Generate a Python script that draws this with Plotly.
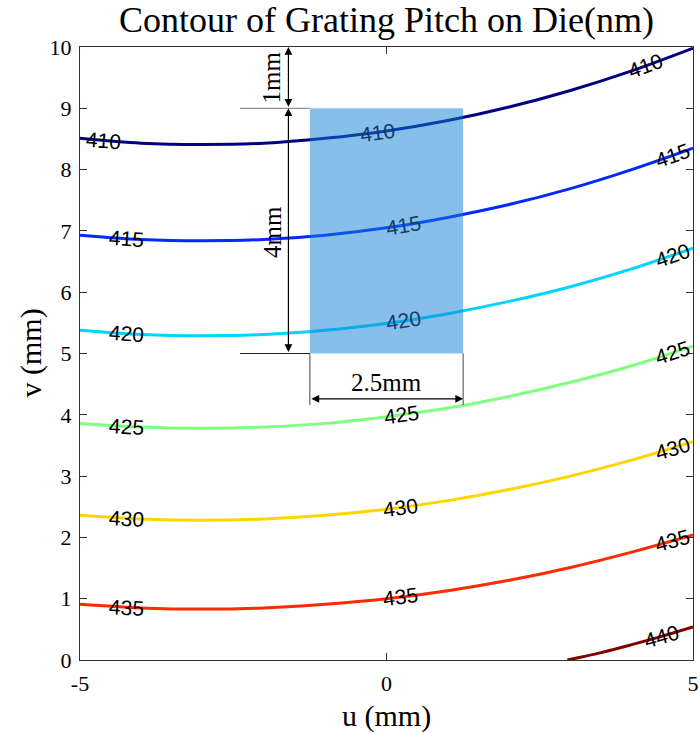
import numpy as np
import plotly.graph_objects as go

# ---- data ----
u_grid = [-5, -4, -3, -2, -1, 0, 1, 2, 3, 4, 5]
levels = [410, 415, 420, 425, 430, 435, 440]
v_410 = [8.51, 8.43, 8.41, 8.43, 8.51, 8.63, 8.80, 9.02, 9.29, 9.61, 9.98]
v_415 = [6.93, 6.86, 6.84, 6.86, 6.93, 7.05, 7.22, 7.43, 7.69, 8.00, 8.35]
v_420 = [5.38, 5.31, 5.29, 5.31, 5.38, 5.49, 5.65, 5.85, 6.09, 6.38, 6.72]
v_425 = [3.86, 3.80, 3.78, 3.80, 3.86, 3.97, 4.11, 4.30, 4.53, 4.80, 5.12]
v_430 = [2.36, 2.30, 2.28, 2.30, 2.36, 2.46, 2.60, 2.78, 3.00, 3.26, 3.56]
v_435 = [0.91, 0.85, 0.83, 0.85, 0.91, 1.00, 1.13, 1.30, 1.51, 1.76, 2.04]
u_440 = [2.95, 3.5, 4.0, 4.5, 5.0]
v_440 = [0.00, 0.12, 0.25, 0.39, 0.54]

# label anchor u-positions per level (left, middle, right)
label_u_left = [-4.62, -4.24, -4.24, -4.24, -4.24, -4.24, None]
label_u_mid = [-0.14, 0.27, 0.27, 0.25, 0.23, 0.23, None]
label_u_right = [4.23, 4.66, 4.66, 4.66, 4.66, 4.66, 4.48]

# die rectangle and dimensions (mm)
die_u = [-1.25, 1.25]
die_v = [5.0, 9.0]
edge_v = 10.0
dim_u = -1.6
dim_labels = ["1mm", "4mm", "2.5mm"]

title = "Contour of Grating Pitch on Die(nm)"
x_title = "u (mm)"
y_title = "v (mm)"
x_ticks = [-5, 0, 5]
y_ticks = list(range(0, 11))


def jet(t):
    def c(x):
        return max(0.0, min(1.0, x))
    r = c(1.5 - abs(4 * t - 3))
    g = c(1.5 - abs(4 * t - 2))
    b = c(1.5 - abs(4 * t - 1))
    return f"rgb({int(round(r*255))},{int(round(g*255))},{int(round(b*255))})"


lines_u = [u_grid] * 6 + [u_440]
lines_v = [v_410, v_415, v_420, v_425, v_430, v_435, v_440]

fig = go.Figure()
for i, (lev, uu, vv) in enumerate(zip(levels, lines_u, lines_v)):
    t = (lev - levels[0]) / (levels[-1] - levels[0])
    fig.add_trace(go.Scatter(x=uu, y=vv, mode="lines",
                             line=dict(color=jet(t), width=3, shape="spline", smoothing=1.0),
                             showlegend=False, hoverinfo="skip"))

annotations = []
serif = "Liberation Serif"
sans = "Liberation Sans"


def add_label(lev, uu, vv, u0, color="black"):
    v0 = float(np.interp(u0, uu, vv))
    d = 0.25
    s = (np.interp(u0 + d, uu, vv) - np.interp(u0 - d, uu, vv)) / (2 * d)
    ang = -np.degrees(np.arctan(s))
    annotations.append(dict(x=u0, y=v0, xref="x", yref="y", text=str(lev),
                            showarrow=False, textangle=ang,
                            font=dict(family=sans, size=21, color=color),
                            xanchor="center", yanchor="middle"))


for i, lev in enumerate(levels):
    uu, vv = lines_u[i], lines_v[i]
    if label_u_left[i] is not None:
        add_label(lev, uu, vv, label_u_left[i])
    if label_u_mid[i] is not None:
        inside = die_u[0] <= label_u_mid[i] <= die_u[1] and die_v[0] <= np.interp(label_u_mid[i], uu, vv) <= die_v[1]
        add_label(lev, uu, vv, label_u_mid[i], color="rgb(20,62,100)" if inside else "black")
    if label_u_right[i] is not None:
        add_label(lev, uu, vv, label_u_right[i])

# die rectangle (semi-transparent, above lines)
shapes = [dict(type="rect", x0=die_u[0], x1=die_u[1], y0=die_v[0], y1=die_v[1],
               xref="x", yref="y", fillcolor="rgba(15,127,215,0.5)",
               line=dict(width=0), layer="above")]
# extension lines
ext_left = -2.39
shapes.append(dict(type="line", x0=ext_left, x1=die_u[0], y0=die_v[1], y1=die_v[1],
                   xref="x", yref="y", line=dict(color="#777777", width=1), layer="above"))
shapes.append(dict(type="line", x0=ext_left, x1=die_u[0], y0=die_v[0], y1=die_v[0],
                   xref="x", yref="y", line=dict(color="#222222", width=1), layer="above"))
ext_bottom = 4.16
for ux in die_u:
    shapes.append(dict(type="line", x0=ux, x1=ux, y0=die_v[0], y1=ext_bottom,
                       xref="x", yref="y", line=dict(color="#444444", width=1), layer="above"))


def dbl_arrow(x0, y0, x1, y1):
    annotations.append(dict(x=x1, y=y1, ax=x0, ay=y0, xref="x", yref="y", axref="x", ayref="y",
                            showarrow=True, arrowhead=2, startarrowhead=2, arrowside="end+start",
                            arrowsize=1.3, startarrowsize=1.3, arrowwidth=1.2, arrowcolor="black",
                            text=""))


dbl_arrow(dim_u, die_v[1], dim_u, edge_v)
dbl_arrow(dim_u, die_v[0], dim_u, die_v[1])
dim_h_v = 4.26
dbl_arrow(die_u[0], dim_h_v, die_u[1], dim_h_v)

annotations.append(dict(x=-1.87, y=(die_v[1] + edge_v) / 2, xref="x", yref="y", text=dim_labels[0],
                        showarrow=False, textangle=-90, font=dict(family=serif, size=25, color="black")))
annotations.append(dict(x=-1.87, y=6.98, xref="x", yref="y", text=dim_labels[1],
                        showarrow=False, textangle=-90, font=dict(family=serif, size=25, color="black")))
annotations.append(dict(x=0, y=4.53, xref="x", yref="y", text=dim_labels[2],
                        showarrow=False, font=dict(family=serif, size=25, color="black")))

# axis titles
annotations.append(dict(x=0.5, y=-(716 - 660) / 613, xref="paper", yref="paper", text=x_title,
                        showarrow=False, font=dict(family=serif, size=30, color="black"),
                        xanchor="center", yanchor="middle"))
annotations.append(dict(x=(30 - 80) / 613, y=0.5, xref="paper", yref="paper", text=y_title,
                        showarrow=False, textangle=-90, font=dict(family=serif, size=30, color="black"),
                        xanchor="center", yanchor="middle"))

axis_common = dict(showgrid=False, zeroline=False, showline=True, linecolor="#333333", linewidth=1,
                   ticks="inside", ticklen=7, tickcolor="#333333", mirror="ticks", automargin=False,
                   tickfont=dict(family=serif, size=22, color="black"))

fig.update_layout(
    width=700, height=733,
    margin=dict(l=80, r=7, t=47, b=73),
    paper_bgcolor="white", plot_bgcolor="white",
    title=dict(text=title, x=0.5, xref="paper", xanchor="center",
               y=1 - 19 / 733, yref="container", yanchor="middle",
               font=dict(family=serif, size=36, color="black")),
    xaxis=dict(range=[-5, 5], tickvals=x_ticks, ticktext=[str(t) for t in x_ticks],
               ticklabelstandoff=4, **axis_common),
    yaxis=dict(range=[0, 10], tickvals=y_ticks, ticktext=[str(t) for t in y_ticks],
               ticklabelstandoff=3, **axis_common),
    shapes=shapes, annotations=annotations,
)

fig.write_html("out.html")
